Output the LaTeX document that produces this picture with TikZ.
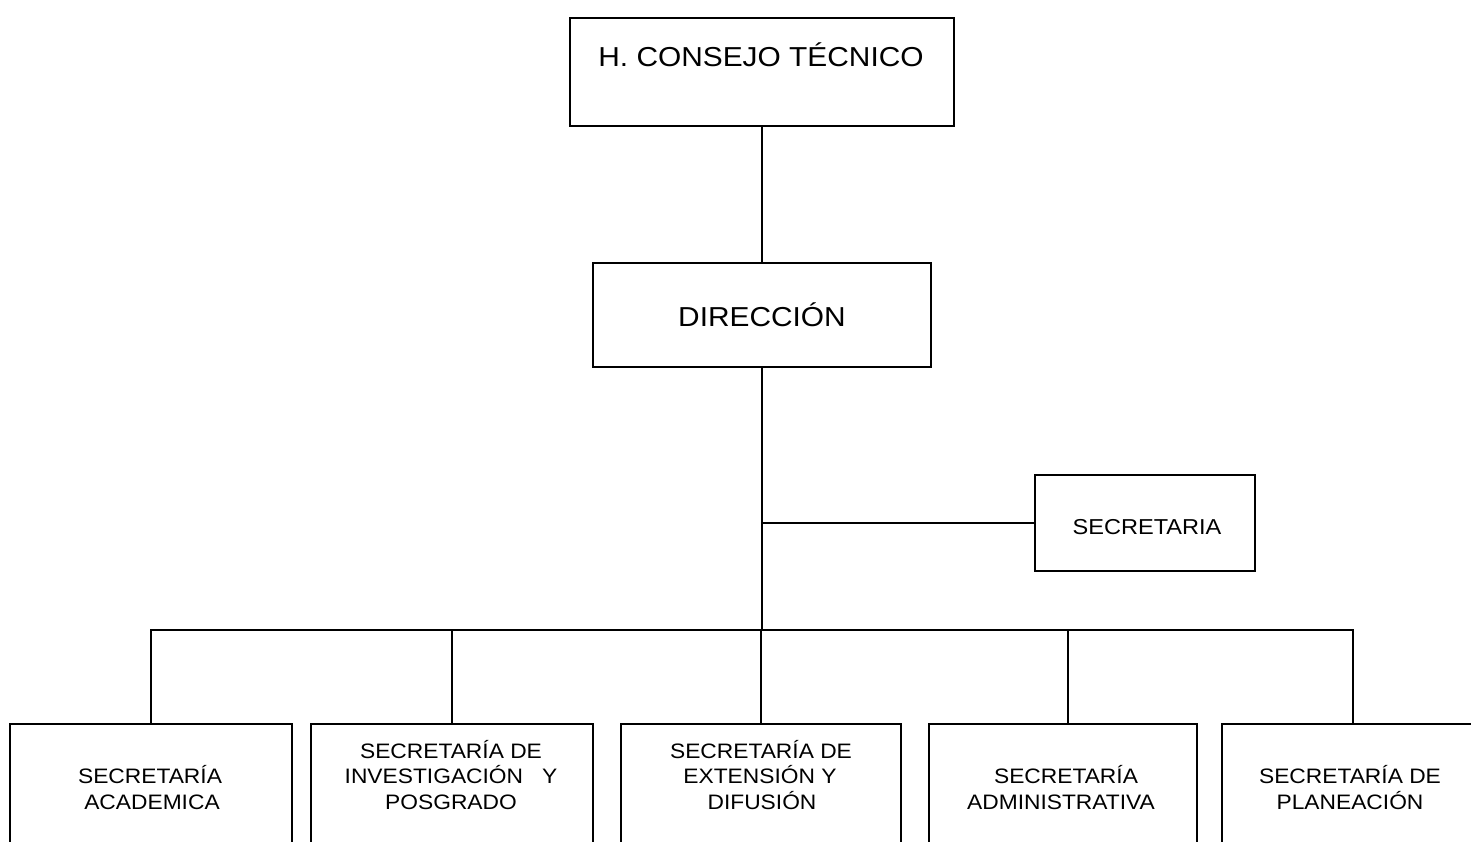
\documentclass[tikz,border=0pt]{standalone}
\usepackage{fontspec}
\setmainfont{Liberation Sans}
\newfontfamily\fS[FakeStretch=1.09]{Liberation Sans}
\begin{document}
\begin{tikzpicture}[x=1pt,y=-1pt,
  box/.style={draw,line width=1.8pt,inner sep=0pt},
  conn/.style={line width=1.8pt},
  lbl/.style={inner sep=0pt,anchor=base},
  big/.style={lbl,font=\fS\fontsize{27.4}{30}\selectfont},
  mid/.style={lbl,font=\fS\fontsize{21.6}{24}\selectfont},
  small/.style={lbl,font=\fS\fontsize{20.9}{24}\selectfont}]
\useasboundingbox (0,0) rectangle (1471,842);
\clip (0,0) rectangle (1471,842);
% boxes
\node[box,minimum width=384pt,minimum height=108pt] (hc) at (762,72) {};
\node[box,minimum width=338pt,minimum height=104pt] (dir) at (762,315) {};
\node[box,minimum width=220pt,minimum height=96pt] (sec) at (1145,523) {};
\node[box,minimum width=282pt,minimum height=160pt] (b1) at (151,804) {};
\node[box,minimum width=282pt,minimum height=160pt] (b2) at (452,804) {};
\node[box,minimum width=280pt,minimum height=160pt] (b3) at (761,804) {};
\node[box,minimum width=268pt,minimum height=160pt] (b4) at (1063,804) {};
\node[box,minimum width=262pt,minimum height=160pt] (b5) at (1353,804) {};
% labels
\node[big] (thc) at (761,67) {H. CONSEJO TÉCNICO};
\node[big] (tdir) at (762,326) {DIRECCIÓN};
\node[mid] (tsec) at (1147,534) {SECRETARIA};
\node[small] (t1a) at (150,783) {SECRETARÍA};
\node[small] (t1b) at (152,809) {ACADEMICA};
\node[small] (t2a) at (451,758) {SECRETARÍA DE};
\node[small] (t2b) at (451,783) {INVESTIGACIÓN\ \ \ Y};
\node[small] (t2c) at (451,809) {POSGRADO};
\node[small] (t3a) at (761,758) {SECRETARÍA DE};
\node[small] (t3b) at (760,783) {EXTENSIÓN Y};
\node[small] (t3c) at (762,809) {DIFUSIÓN};
\node[small] (t4a) at (1066,783) {SECRETARÍA};
\node[small] (t4b) at (1061,809) {ADMINISTRATIVA};
\node[small] (t5a) at (1350,783) {SECRETARÍA DE};
\node[small] (t5b) at (1350,809) {PLANEACIÓN};
% connectors
\coordinate (bus) at (762,630);
\coordinate (d4) at (1068,630);
\draw[conn] (hc.south) -- (dir.north);
\draw[conn] (dir.south) -- (bus);
\draw[conn] (sec.west) -- (sec.west -| dir.south);
\draw[conn] (b1.north) |- (bus) -| (b5.north);
\draw[conn] (b2.north) -- (b2.north |- bus);
\draw[conn] (b3.north) -- (b3.north |- bus);
\draw[conn] (d4) -- (d4 |- b4.north);
\end{tikzpicture}
\end{document}
